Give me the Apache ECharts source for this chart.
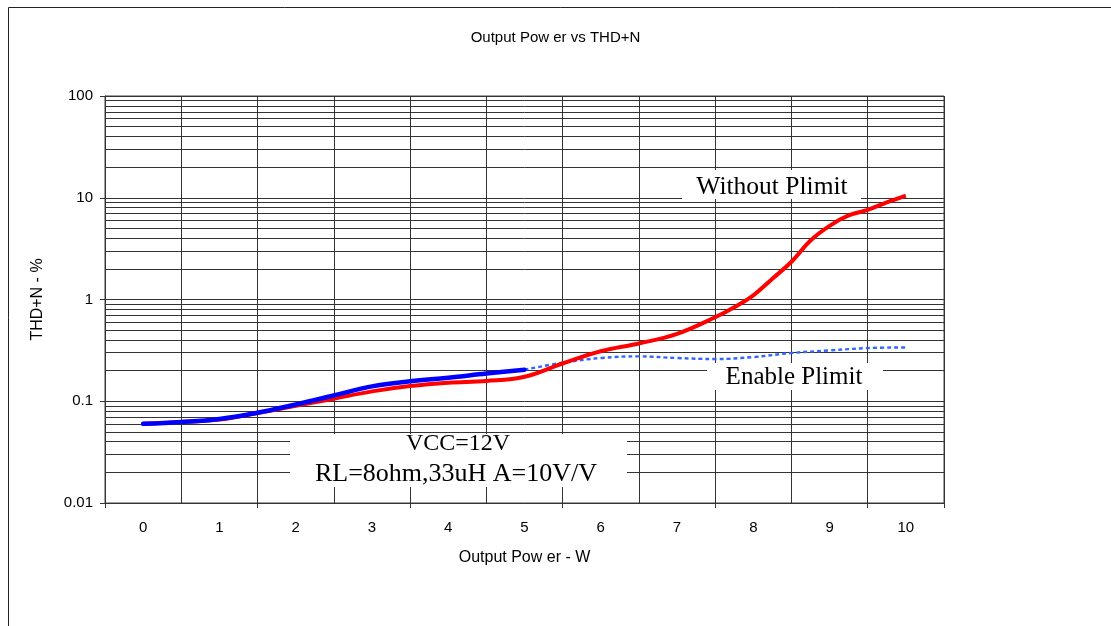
<!DOCTYPE html>
<html>
<head>
<meta charset="utf-8">
<script src="https://cdn.jsdelivr.net/npm/echarts@6/dist/echarts.min.js"></script>
<style>html,body{margin:0;padding:0;background:#fff;}#c{width:1111px;height:626px;}</style>
</head>
<body>
<div id="c"></div>
<script>
// ---- data ----
const xTickLabels = ['0','1','2','3','4','5','6','7','8','9','10'];
const yTickLabels = ['0.01','0.1','1','10','100'];

const redX = [0,0.5,1,1.5,2,2.5,3,3.5,4,4.5,5,5.5,6,6.5,7,7.5,7.75,8,8.25,8.5,8.75,9,9.25,9.5,9.75,10];
const redY = [0.060,0.0625,0.066,0.0768,0.090,0.106,0.125,0.141,0.152,0.158,0.174,0.235,0.31,0.37,0.46,0.67,0.84,1.1,1.6,2.35,3.8,5.3,6.7,7.6,9.0,10.5];

const blueX = [0,0.5,1,1.5,2,2.5,3,3.5,4,4.5,5];
const blueY = [0.060,0.0625,0.067,0.077,0.093,0.114,0.140,0.157,0.170,0.187,0.204];

const dotX = [5,5.5,6,6.5,7,7.5,8,8.5,9,9.5,10];
const dotY = [0.204,0.239,0.266,0.276,0.266,0.260,0.272,0.298,0.316,0.333,0.338];

const minorGrid = [];
[0.01,0.1,1,10].forEach(d => { for (let k = 2; k <= 9; k++) minorGrid.push(+(k*d).toPrecision(3)); });

const pair = (xs, ys) => xs.map((x, i) => [x, ys[i]]);

const sans = '"Liberation Sans", Arial, sans-serif';
const serif = '"Liberation Serif", "Times New Roman", serif';
const gridColor = '#333';

const chart = echarts.init(document.getElementById('c'), null, {renderer: 'canvas'});
chart.setOption({
  animation: false,
  backgroundColor: '#fff',
  title: {
    text: 'Output Pow er vs THD+N',
    left: 'center', top: 25,
    textStyle: {fontFamily: sans, fontSize: 15, fontWeight: 'normal', color: '#000'}
  },
  grid: {left: 105, top: 96, right: 167, bottom: 123, show: true, borderColor: '#444', borderWidth: 1, backgroundColor: 'transparent'},
  xAxis: [{
    type: 'category',
    data: xTickLabels,
    boundaryGap: true,
    name: 'Output Pow er - W',
    nameLocation: 'middle',
    nameGap: 47,
    nameTextStyle: {fontFamily: sans, fontSize: 16, color: '#000'},
    axisLine: {onZero: false, lineStyle: {color: '#333', width: 1}},
    axisTick: {show: true, interval: 1, length: 5, lineStyle: {color: '#333'}},
    axisLabel: {interval: 0, margin: 17, fontFamily: sans, fontSize: 15, color: '#000'},
    splitLine: {show: true, interval: 0, lineStyle: {color: gridColor, width: 1}}
  }, {
    type: 'value', min: -0.5, max: 10.5, show: false,
    axisLine: {onZero: false},
    splitLine: {show: false}
  }],
  yAxis: {
    type: 'log', logBase: 10, min: 0.01, max: 100,
    name: 'THD+N - %',
    nameLocation: 'middle',
    nameGap: 59,
    nameTextStyle: {fontFamily: sans, fontSize: 16, color: '#000'},
    axisLine: {show: true, onZero: false, lineStyle: {color: '#333', width: 1}},
    axisTick: {show: true, length: 5, lineStyle: {color: '#333'}},
    axisLabel: {
      margin: 12, fontFamily: sans, fontSize: 15, color: '#000',
      formatter: v => yTickLabels[Math.round(Math.log10(v)) + 2]
    },
    splitLine: {show: true, lineStyle: {color: gridColor, width: 1}}
  },
  graphic: {
    elements: [
      {type: 'rect', z: 10, silent: true, shape: {x: 8.5, y: 7.5, width: 1300, height: 800}, style: {fill: 'none', stroke: '#222', lineWidth: 1}},
      {type: 'rect', z: 10, silent: true, shape: {x: 682, y: 170, width: 179, height: 29}, style: {fill: '#fff'}},
      {type: 'text', z: 11, silent: true, style: {text: 'Without Plimit', x: 772, y: 187, align: 'center', verticalAlign: 'middle', font: '25.5px ' + serif, fill: '#000'}},
      {type: 'rect', z: 10, silent: true, shape: {x: 707, y: 363, width: 176, height: 27}, style: {fill: '#fff'}},
      {type: 'text', z: 11, silent: true, style: {text: 'Enable Plimit', x: 794, y: 377, align: 'center', verticalAlign: 'middle', font: '25px ' + serif, fill: '#000'}},
      {type: 'rect', z: 10, silent: true, shape: {x: 290, y: 434, width: 337, height: 53}, style: {fill: '#fff'}},
      {type: 'text', z: 11, silent: true, style: {text: 'VCC=12V', x: 458, y: 444, align: 'center', verticalAlign: 'middle', font: '24px ' + serif, fill: '#000'}},
      {type: 'text', z: 11, silent: true, style: {text: 'RL=8ohm,33uH A=10V/V', x: 456, y: 474, align: 'center', verticalAlign: 'middle', font: '26px ' + serif, fill: '#000'}}
    ]
  },
  series: [
    {
      name: 'grid', type: 'line', xAxisIndex: 1, data: [], z: 1, silent: true,
      markLine: {
        silent: true, symbol: ['none', 'none'], animation: false,
        label: {show: false},
        lineStyle: {color: gridColor, width: 1, type: 'solid'},
        emphasis: {disabled: true},
        data: minorGrid.map(v => ({yAxis: v}))
      }
    },
    {
      name: 'Enable Plimit (dotted)', type: 'line', xAxisIndex: 1, z: 20,
      data: pair(dotX, dotY), smooth: 0.4, showSymbol: false,
      lineStyle: {color: '#3366ff', width: 2.4, type: [4, 3]}
    },
    {
      name: 'Without Plimit', type: 'line', xAxisIndex: 1, z: 21,
      data: pair(redX, redY), smooth: 0.4, showSymbol: false,
      lineStyle: {color: '#ff0000', width: 4}
    },
    {
      name: 'Enable Plimit', type: 'line', xAxisIndex: 1, z: 22,
      data: pair(blueX, blueY), smooth: 0.4, showSymbol: false,
      lineStyle: {color: '#0000ff', width: 4.5, cap: 'round'}
    }
  ]
});
</script>
</body>
</html>
